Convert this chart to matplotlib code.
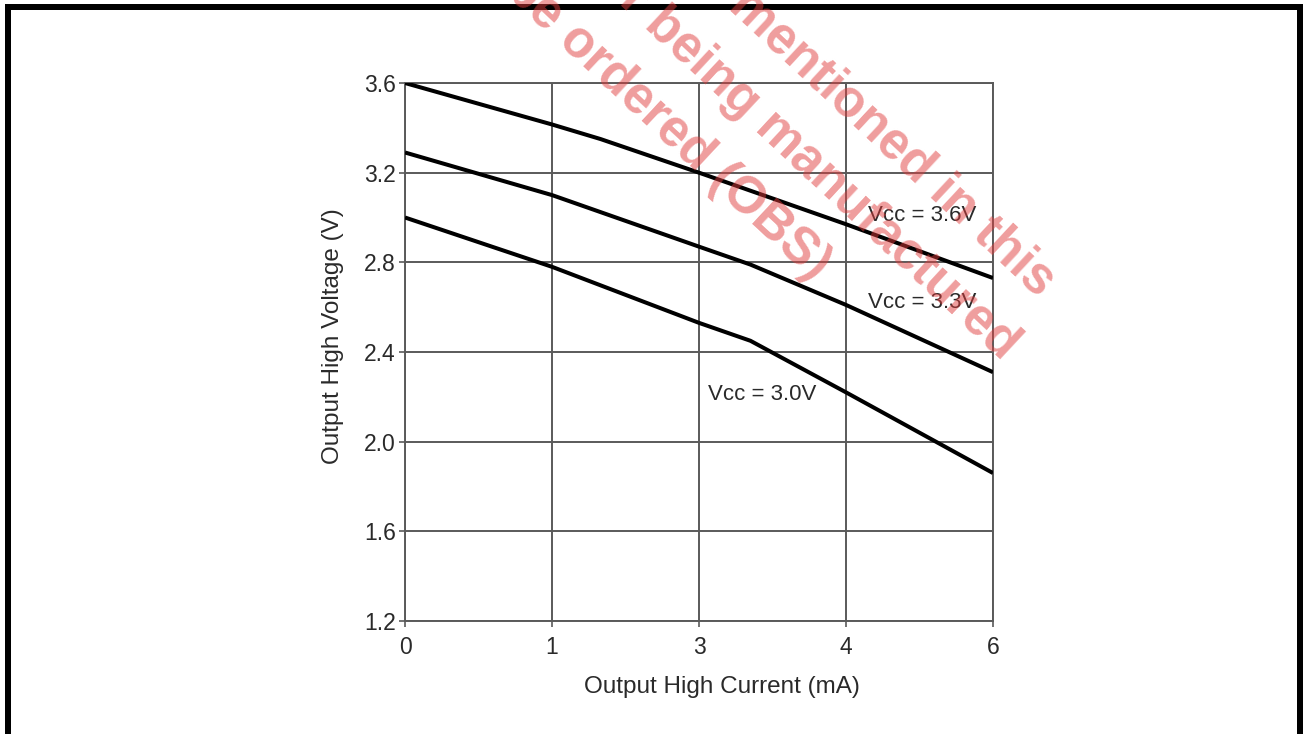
import matplotlib
matplotlib.use("Agg")
import matplotlib.pyplot as plt
from matplotlib.lines import Line2D

plt.rcParams['font.family'] = ['Liberation Sans', 'DejaVu Sans']

# ---- data ----
x_tick_labels = ['0', '1', '3', '4', '6']
y_ticks = [1.2, 1.6, 2.0, 2.4, 2.8, 3.2, 3.6]

vcc36_x = [0, 1, 1.33, 2, 3, 4]
vcc36_y = [3.60, 3.415, 3.35, 3.20, 2.97, 2.73]
vcc33_x = [0, 1, 2, 2.35, 3, 4]
vcc33_y = [3.29, 3.10, 2.87, 2.79, 2.61, 2.31]
vcc30_x = [0, 1, 2, 2.35, 3, 4]
vcc30_y = [3.00, 2.78, 2.53, 2.45, 2.22, 1.86]

series_labels = ['Vcc = 3.6V', 'Vcc = 3.3V', 'Vcc = 3.0V']
label_pos = [(3.15, 3.01), (3.15, 2.62), (2.06, 2.21)]

watermark_lines = ['The product mentioned in this',
                   'document is no longer being manufactured',
                   'and can no longer be ordered (OBS)']

W, H = 1303, 734
fig = plt.figure(figsize=(W / 100, H / 100), dpi=100)
fig.patch.set_facecolor('white')

ax = fig.add_axes([405 / W, 1 - 621 / H, (993 - 405) / W, (621 - 83) / H])
grid_c = '#5a5a5a'
text_c = '#2a2a2a'

for xs, ys in [(vcc36_x, vcc36_y), (vcc33_x, vcc33_y), (vcc30_x, vcc30_y)]:
    ax.plot(xs, ys, color='black', lw=2.9, solid_capstyle='butt', zorder=3)

for lab, (lx, ly) in zip(series_labels, label_pos):
    ax.text(lx, ly, lab, fontsize=16, color=text_c, ha='left', va='center', zorder=4)

ax.set_xlim(0, 4)
ax.set_ylim(1.2, 3.6)
ax.set_xticks(range(len(x_tick_labels)))
ax.set_xticklabels(x_tick_labels)
ax.set_yticks(y_ticks)
ax.set_yticklabels([f'{v:.1f}' for v in y_ticks])
ax.grid(True, color=grid_c, lw=1.4)
ax.set_axisbelow(True)
for s in ax.spines.values():
    s.set_color(grid_c)
    s.set_linewidth(1.4)
ax.tick_params(axis='both', colors=grid_c, labelcolor=text_c, labelsize=16.5,
               length=4.5, width=1.2, pad=2)
ax.tick_params(axis='x', pad=6)
ax.set_xlabel('Output High Current (mA)', fontsize=17.5, color=text_c)
ax.set_ylabel('Output High Voltage (V)', fontsize=17.5, color=text_c)
ax.xaxis.set_label_coords(0.539, -0.102)
ax.yaxis.set_label_coords(-0.104, 0.53)

# outer frame (top, left, right)
lw_px = 6
for (x0, y0, x1, y1) in [(5, 7, 1303, 7), (8, 4, 8, 734), (1300, 4, 1300, 734)]:
    fig.add_artist(Line2D([x0 / W, x1 / W], [1 - y0 / H, 1 - y1 / H],
                          transform=fig.transFigure, color='black',
                          lw=lw_px * 0.72, solid_capstyle='butt'))

# watermark
ends = [(1038, 298), (1002, 361), (814, 281)]
for txt, (ex, ey) in zip(watermark_lines, ends):
    fig.text(ex / W, 1 - ey / H, txt, rotation=-43, rotation_mode='anchor',
             ha='right', va='baseline', fontsize=37, fontweight='bold',
             color='#e03c3c', alpha=0.5, zorder=10)

fig.savefig('out.png', dpi=100)
